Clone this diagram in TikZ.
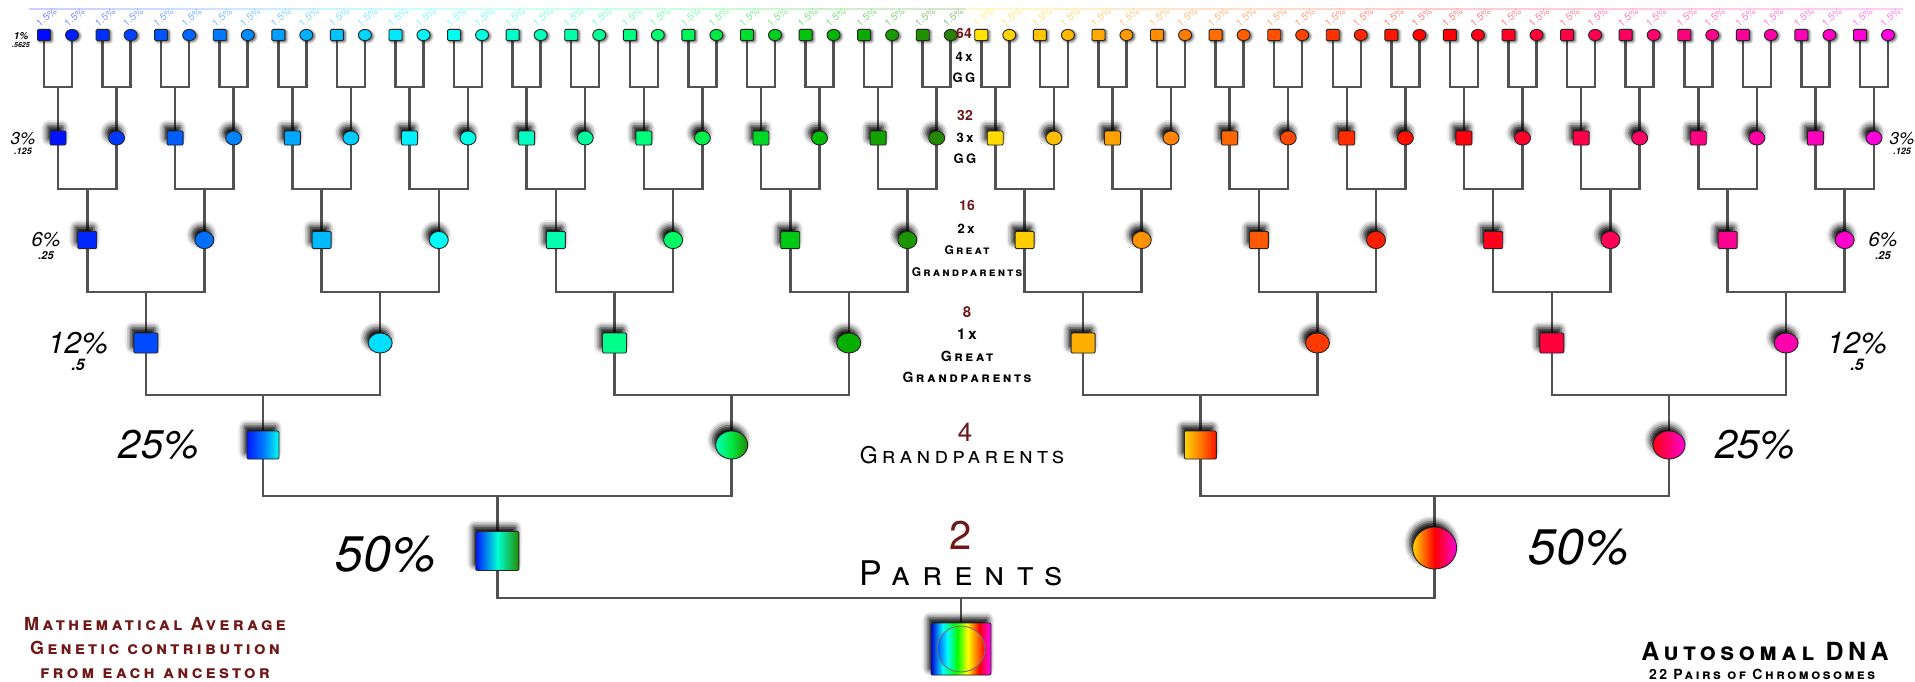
\documentclass[tikz,border=0pt]{standalone}
\usepackage{fontspec}
\setmainfont{TeX Gyre Heros}
\newfontfamily\spacedfont{TeX Gyre Heros}[LetterSpace=18]
\newfontfamily\widerfont{TeX Gyre Heros}[LetterSpace=35]
\usepackage{tikz}
\usetikzlibrary{shapes.geometric, shadows.blur, backgrounds, positioning}

\definecolor{numred}{RGB}{112,24,24}
\definecolor{linkgray}{RGB}{82,82,82}

\newcommand\fsz[1]{\fontsize{#1}{#1}\selectfont}
% colour of an ancestor from its place t (0..1) along the row
\newcommand\ancestorcolor[2]{%
	\pgfmathsetmacro\anchue{#2<0.5 ? 240-280*#2 : mod(525-220*#2,360)}%
	\pgfmathsetmacro\ancbri{#2<0.5 ? 1-max(0,#2-0.34)*3.2 : 1}%
	\definecolor{anctmp}{Hsb}{\anchue,1,\ancbri}%
	\colorlet{#1}[rgb]{anctmp}}

\pgfdeclarehorizontalshading{rainbow}{100bp}{color(0bp)=(blue!85!black); color(25bp)=(blue!85!black); color(35bp)=(cyan); color(45bp)=(green); color(55bp)=(yellow); color(65bp)=(red); color(75bp)=(magenta); color(100bp)=(magenta)}
\pgfdeclarehorizontalshading{spectrum}{100bp}{color(0bp)=(blue!70!cyan); color(25bp)=(blue!70!cyan); color(36bp)=(cyan); color(46bp)=(green); color(57bp)=(yellow); color(66bp)=(orange); color(75bp)=(red); color(100bp)=(red)}

\tikzset{
	x=0.5pt,
	y=-0.5pt,
	male/.style={
		draw=black!85,
		rectangle,
		rounded corners=0.6pt,
		inner sep=0pt,
		line width=0.45pt
	},
	female/.style={
		draw=black!85,
		ellipse,
		inner sep=0pt,
		line width=0.45pt
	},
	smudge/.style={blur shadow={shadow xshift=-1.4pt, shadow yshift=2.6pt, shadow blur radius=3pt, shadow opacity=100}},
	speck/.style={blur shadow={shadow xshift=0.8pt, shadow yshift=-0.6pt, shadow blur radius=1.3pt, shadow opacity=70}},
	link/.style={draw=linkgray, line width=1.25pt},
	gen6/.style={minimum width=6.5pt, minimum height=5.6pt},
	gen5/.style={minimum width=8pt, minimum height=7pt},
	gen4/.style={minimum width=9.5pt, minimum height=8.6pt},
	gen3/.style={minimum width=12pt, minimum height=10pt},
	gen2/.style={minimum width=16pt, minimum height=14pt},
	gen1/.style={minimum width=21.5pt, minimum height=19.5pt},
	gen0/.style={minimum width=30pt, minimum height=26pt},
	tally/.style={text=numred, font=\bfseries\fsz{#1}, inner sep=0pt},
	rungtag/.style={font=\spacedfont\bfseries\scshape\fsz{#1}, inner sep=0pt},
	pct/.style={font=\itshape\fsz{#1}, inner sep=0pt},
	pctfrac/.style={font=\bfseries\itshape\fsz{#1}, inner sep=0pt}
}

\begin{document}
\begin{tikzpicture}
	\useasboundingbox (0,0) rectangle (1915,681);

	% top row, 64 ancestors
	\foreach \i in {0,...,63}{
		\pgfmathsetmacro\xx{58+58.58*floor(\i/2)+28*mod(\i,2)-14}
		\pgfmathsetmacro\tpos{(\i+0.5)/64}
		\ancestorcolor{fillc}{\tpos}
		\ifodd\i\relax\def\shp{female}\else\def\shp{male}\fi
		\draw[fillc!20, line width=0.8pt] (\xx-15.3,9) -- (\xx+15.3,9);
		\node[\shp, gen6, fill=fillc, speck] (g6-\i) at (\xx,35) {};
		\node[rotate=40, anchor=south west, inner sep=0pt, text=fillc!50!white, font=\fsz{5}] (p6-\i) at (\xx-4,28) {1.5\%};
	}

	% rows of 32, 16 and 8
	\foreach \k/\yy in {5/138, 4/240, 3/343}{
		\pgfmathtruncatemacro\cnt{2^\k}
		\pgfmathtruncatemacro\last{\cnt-1}
		\pgfmathsetmacro\grp{32/\cnt}
		\foreach \i in {0,...,\last}{
			\pgfmathsetmacro\xx{58+58.58*(\i*\grp+(\grp-1)/2)}
			\pgfmathsetmacro\tpos{(\i+0.5)/\cnt}
			\ancestorcolor{fillc}{\tpos}
			\ifodd\i\relax\def\shp{female}\else\def\shp{male}\fi
			\node[\shp, gen\k, fill=fillc, smudge] (g\k-\i) at (\xx,\yy) {};
		}
	}

	% grandparents, parents, self
	\ancestorcolor{c02}{0.02}
	\ancestorcolor{c10}{0.10}
	\ancestorcolor{c23}{0.23}
	\ancestorcolor{c25}{0.25}
	\ancestorcolor{c27}{0.27}
	\ancestorcolor{c37}{0.37}
	\ancestorcolor{c48}{0.48}
	\ancestorcolor{c52}{0.52}
	\ancestorcolor{c62}{0.62}
	\ancestorcolor{c73}{0.73}
	\ancestorcolor{c75}{0.75}
	\ancestorcolor{c77}{0.77}
	\ancestorcolor{c87}{0.87}
	\ancestorcolor{c98}{0.98}
	\node[male, gen2, left color=c02, right color=c23, middle color=c10, smudge] (g2-0) at (263,445) {};
	\node[female, gen2, left color=c27, right color=c48, middle color=c37, smudge] (g2-1) at (731.7,445) {};
	\node[male, gen2, left color=c52, right color=c73, middle color=c62, smudge] (g2-2) at (1200.3,445) {};
	\node[female, gen2, left color=c77, right color=c98, middle color=c87, smudge] (g2-3) at (1669,445) {};
	\node[male, gen1, left color=c02, right color=c48, middle color=c25, smudge] (g1-0) at (497.4,551) {};
	\node[female, gen1, minimum width=22pt, minimum height=21pt, left color=c52, right color=c98, middle color=c75, smudge] (g1-1) at (1434.6,548) {};
	\node[male, gen0, shading=rainbow, smudge] (g0-0) at (961,649) {};
	\node[female, minimum width=24pt, minimum height=23pt, shading=spectrum, draw=black!55] (core) at (g0-0.center) {};

	% brackets
	\begin{scope}[on background layer]
		\foreach \k/\ybr in {6/87, 5/189, 4/292, 3/395, 2/496, 1/598}{
			\pgfmathtruncatemacro\up{\k-1}
			\pgfmathtruncatemacro\last{2^\up-1}
			\foreach \i in {0,...,\last}{
				\pgfmathtruncatemacro\ca{2*\i}
				\pgfmathtruncatemacro\cb{2*\i+1}
				\coordinate (br\k-\i) at (g\up-\i |- 0,\ybr);
				\draw[link] (g\k-\ca.south) |- (br\k-\i) -| (g\k-\cb.south);
				\draw[link] (br\k-\i) -- (g\up-\i.north);
			}
		}
	\end{scope}

	% middle column
	\node[tally=7] (n64) at (964,33) {64};
	\node[rungtag=6.5] (m4) at (964,57) {4x};
	\node[rungtag=6.5] (gg4) at (964,78) {GG};
	\node[tally=7] (n32) at (965,115) {32};
	\node[rungtag=6.5] (m3) at (965,138) {3x};
	\node[rungtag=6.5] (gg3) at (965,159) {GG};
	\node[tally=7] (n16) at (967,205) {16};
	\node[rungtag=6.5] (m2) at (966,229) {2x};
	\node[rungtag=6] (great2) at (967,250) {Great};
	\node[rungtag=6] (gp2) at (967,272) {Grandparents};
	\node[tally=7.5] (n8) at (967,312) {8};
	\node[rungtag=7.5] (m1) at (967,334) {1x};
	\node[rungtag=7] (great1) at (967,356) {Great};
	\node[rungtag=7] (gp1) at (967,377) {Grandparents};
	\node[tally=13, font=\fsz{13}] (n4) at (965,432) {4};
	\node[font=\spacedfont\scshape\fsz{11.5}, inner sep=0pt] (gp0) at (962,455) {Grandparents};
	\node[tally=20, font=\fsz{20}] (n2) at (961,535) {2};
	\node[font=\widerfont\scshape\fsz{17}, inner sep=0pt] (par) at (961,573) {Parents};

	% shares on the sides
	\node[pct=5, font=\bfseries\itshape\fsz{5}] (sixtyfourth) at (21,36) {1\%};
	\node[pctfrac=3.5, below=1pt of sixtyfourth] (sixtyfourth-f) {.5625};
	\node[pct=8.6] (thirtysecond-l) at (23,139) {3\%};
	\node[pctfrac=4.5, below=1pt of thirtysecond-l] (thirtysecond-lf) {.125};
	\node[pct=8.6] (thirtysecond-r) at (1902,139) {3\%};
	\node[pctfrac=4.5, below=1pt of thirtysecond-r] (thirtysecond-rf) {.125};
	\node[pct=10] (sixteenth-l) at (46,240) {6\%};
	\node[pctfrac=5.5, below=1.5pt of sixteenth-l] (sixteenth-lf) {.25};
	\node[pct=10] (sixteenth-r) at (1883,240) {6\%};
	\node[pctfrac=5.5, below=1.5pt of sixteenth-r] (sixteenth-rf) {.25};
	\node[pct=15] (eighth-l) at (78,343) {12\%};
	\node[pctfrac=8, below=2pt of eighth-l] (eighth-lf) {.5};
	\node[pct=15] (eighth-r) at (1857,343) {12\%};
	\node[pctfrac=8, below=2pt of eighth-r] (eighth-rf) {.5};
	\node[pct=20] (quarter-l) at (159,445) {25\%};
	\node[pct=20] (quarter-r) at (1755,445) {25\%};
	\node[pct=25] (half-l) at (386,554) {50\%};
	\node[pct=25] (half-r) at (1579,547) {50\%};

	% captions
	\node[align=center, text=numred, font=\spacedfont\bfseries\scshape\fontsize{9}{11.8}\selectfont, inner sep=0pt] (avg) at (155,648) {Mathematical Average\\Genetic contribution\\from each ancestor};
	\node[font=\spacedfont\bfseries\scshape\fsz{12.5}, inner sep=0pt] (dna) at (1765,651) {Autosomal DNA};
	\node[font=\spacedfont\bfseries\scshape\fsz{7}, inner sep=0pt] (pairs) at (1762,674) {22 Pairs of Chromosomes};
\end{tikzpicture}
\end{document}
